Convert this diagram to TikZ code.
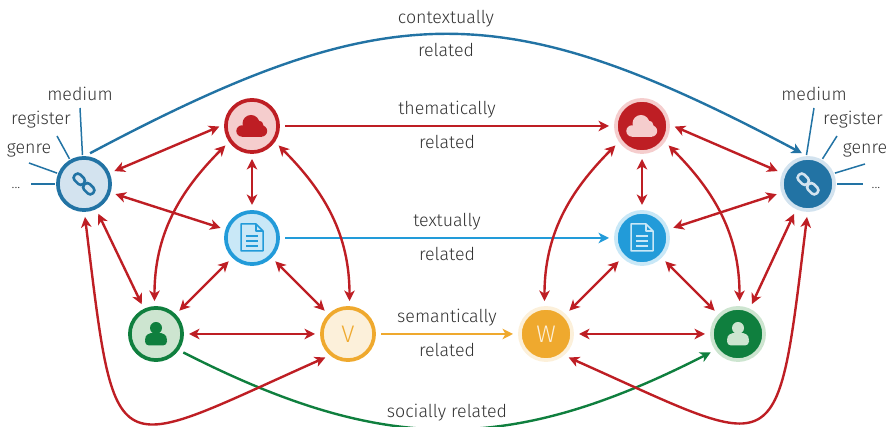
\documentclass[tikz,border=0pt]{standalone}
\usepackage{fontspec}
\setmainfont{Fira Sans Light}
\usetikzlibrary{arrows.meta}
\definecolor{myred}{HTML}{BE1E24}
\definecolor{myredl}{HTML}{F5CDCD}
\definecolor{mylink}{HTML}{2273A4}
\definecolor{mylinkl}{HTML}{D3E3EF}
\definecolor{mydoc}{HTML}{229BD9}
\definecolor{mydocl}{HTML}{C9E8F7}
\definecolor{mygreen}{HTML}{0F7F3E}
\definecolor{mygreenl}{HTML}{CDE5D0}
\definecolor{myorange}{HTML}{EFA92E}
\definecolor{myorangel}{HTML}{FCF0DA}
\definecolor{mytext}{HTML}{333333}
% значки внутри узлов
\tikzset{
  pics/cloudicon/.style={code={
    \fill[#1] (-10,-5) circle (5.7);
    \fill[#1] (-1,2.5) circle (8.5);
    \fill[#1] (6.5,0.5) circle (5);
    \fill[#1] (9.5,-5) circle (5.7);
    \fill[#1] (-10,-10.7) rectangle (9.5,-1);
  }},
  pics/docicon/.style={code={
    \draw[#1, line width=1.5pt, line join=round] (-11,-13) -- (-11,14) -- (4,14) -- (11,7) -- (11,-13) -- cycle;
    \draw[#1, line width=1.5pt, line join=round] (4,14) -- (4,7) -- (11,7);
    \draw[#1, line width=1.7pt] (-6,2) -- (6,2) (-6,-3) -- (6,-3) (-6,-8) -- (6,-8);
  }},
  pics/usericon/.style={code={
    \fill[#1] (0,6) circle (6);
    \fill[#1, rounded corners=4pt] (-11,-11.5) rectangle (11,-3);
    \fill[#1] (-11,-6) .. controls (-11,0) and (-6,1) .. (-3,1) -- (3,1) .. controls (6,1) and (11,0) .. (11,-6) -- cycle;
  }},
  pics/linkicon/.style={code={
    \begin{scope}[rotate=-45]
      \draw[#1, line width=2.6pt, rounded corners=3.5pt] (-12.8,-4) rectangle (-0.6,4);
      \draw[#1, line width=2.6pt, rounded corners=3.5pt] (0.6,-4) rectangle (12.8,4);
    \end{scope}
  }}
}
\begin{document}
\begin{tikzpicture}[x=1pt, y=1pt, font=\fontsize{17.8}{21}\selectfont]
\tikzstyle{mynode} = [circle, minimum size=52.2pt, line width=3.7pt, inner sep=0pt, outer sep=2.9pt] % круглый узел
\tikzstyle{mylabel} = [text=mytext, inner sep=0pt, text height=13pt, text depth=3.5pt] % подпись
\tikzstyle{myfacet} = [line width=1.5pt] % короткие линии к подписям
\tikzstyle{myrel} = [line width=2.4pt, -{Stealth[length=10.5pt, width=10.5pt, inset=3pt]}, shorten >=4pt, shorten <=4pt] % линия со стрелкой
\tikzstyle{mybi} = [myrel, myred, {Stealth[length=10.5pt, width=10.5pt, inset=3pt]}-{Stealth[length=10.5pt, width=10.5pt, inset=3pt]}] % красная двойная стрелка
\useasboundingbox (0,0) rectangle (887,427);

% левая группа
\node[mynode, draw=mylink, fill=mylinkl] (linkL) at (84,243) {};
\node[mynode, draw=myred, fill=myredl] (cloudL) at (252,301) {};
\node[mynode, draw=mydoc, fill=mydocl] (docL) at (252,189) {};
\node[mynode, draw=mygreen, fill=mygreenl] (userL) at (156,93) {};
\node[mynode, draw=myorange, fill=myorangel, text=myorange, font=\fontsize{24}{28}\selectfont] (nodeV) at (348,93) {V};
% правая группа
\node[mynode, draw=mylinkl, fill=mylink] (linkR) at (808,243) {};
\node[mynode, draw=myredl, fill=myred] (cloudR) at (642,301) {};
\node[mynode, draw=mydocl, fill=mydoc] (docR) at (642,189) {};
\node[mynode, draw=mygreenl, fill=mygreen] (userR) at (738,93) {};
\node[mynode, draw=myorangel, fill=myorange, text=myorangel, font=\fontsize{24}{28}\selectfont] (nodeW) at (546,93) {W};

\pic at (linkL) {linkicon=mylink};
\pic at (cloudL) {cloudicon=myred};
\pic at (docL) {docicon=mydoc};
\pic at (userL) {usericon=mygreen};
\pic at (linkR) {linkicon=mylinkl};
\pic at (cloudR) {cloudicon=myredl};
\pic at (docR) {docicon=mydocl};
\pic at (userR) {usericon=mygreenl};

% подписи слева и справа
\node[mylabel] (mediumL) at (80,331) {medium};
\node[mylabel] (registerL) at (41,307) {register};
\node[mylabel] (genreL) at (29,278) {genre};
\node[mylabel, font=\fontsize{14}{17}\selectfont] (dotsL) at (16,243) {...};
\node[mylabel] (mediumR) at (814,331) {medium};
\node[mylabel] (registerR) at (853,307) {register};
\node[mylabel] (genreR) at (865,278) {genre};
\node[mylabel, font=\fontsize{14}{17}\selectfont] (dotsR) at (876,243) {...};
\coordinate (endmedL) at (80,319);
\coordinate (endregL) at (57,291);
\coordinate (endgenL) at (29,264);
\coordinate (enddotL) at (31,243);
\coordinate (endmedR) at (814,319);
\coordinate (endregR) at (837,291);
\coordinate (endgenR) at (865,263);
\coordinate (enddotR) at (863,243);
\draw[myfacet, mylink] (linkL.93) -- (endmedL);
\draw[myfacet, mylink] (linkL.120) -- (endregL);
\draw[myfacet, mylink] (linkL.158) -- (endgenL);
\draw[myfacet, mylink] (linkL.180) -- (enddotL);
\draw[myfacet, mylink] (linkR.93) -- (endmedR);
\draw[myfacet, mylink] (linkR.60) -- (endregR);
\draw[myfacet, mylink] (linkR.22) -- (endgenR);
\draw[myfacet, mylink] (linkR.0) -- (enddotR);

% связи между группами
\draw[myrel, mylink] (linkL.85) to[out=28, in=152, looseness=1.22] node[above=6.5pt, mylabel] {contextually} node[below=8pt, mylabel] {related} (linkR.95);
\draw[myrel, myred] (cloudL) -- node[above=6.5pt, mylabel] {thematically} node[below=8pt, mylabel] {related} (cloudR);
\draw[myrel, mydoc] (docL) -- node[above=6.5pt, mylabel] {textually} node[below=8pt, mylabel] {related} (docR);
\draw[myrel, myorange] (nodeV) -- node[above=6.5pt, mylabel] {semantically} node[below=8pt, mylabel] {related} (nodeW);
\draw[myrel, mygreen] (userL.-35) to[out=-27, in=-153, looseness=1.1] node[above=6.5pt, mylabel] {socially related} (userR.215);

% красные связи слева
\draw[mybi] (linkL.23) -- (cloudL.178);
\draw[mybi] (linkL) -- (docL);
\draw[mybi] (linkL) -- (userL);
\draw[mybi] (cloudL) -- (docL);
\draw[mybi] (docL) -- (userL);
\draw[mybi] (docL) -- (nodeV);
\draw[mybi] (userL) -- (nodeV);
\draw[mybi] (cloudL.215) to[out=225, in=90] (userL.93);
\draw[mybi] (cloudL.-35) to[out=-45, in=90] (nodeV.87);
\draw[mybi] (linkL.-89) to[out=-83, in=204, out looseness=2.36, in looseness=2.18] (nodeV.229);
% красные связи справа
\draw[mybi] (linkR.157) -- (cloudR.2);
\draw[mybi] (linkR) -- (docR);
\draw[mybi] (linkR) -- (userR);
\draw[mybi] (cloudR) -- (docR);
\draw[mybi] (docR) -- (userR);
\draw[mybi] (docR) -- (nodeW);
\draw[mybi] (userR) -- (nodeW);
\draw[mybi] (cloudR.-35) to[out=-45, in=90] (userR.87);
\draw[mybi] (cloudR.215) to[out=225, in=90] (nodeW.93);
\draw[mybi] (linkR.-91) to[out=-97, in=-24, out looseness=2.36, in looseness=2.18] (nodeW.-49);
\end{tikzpicture}
\end{document}
